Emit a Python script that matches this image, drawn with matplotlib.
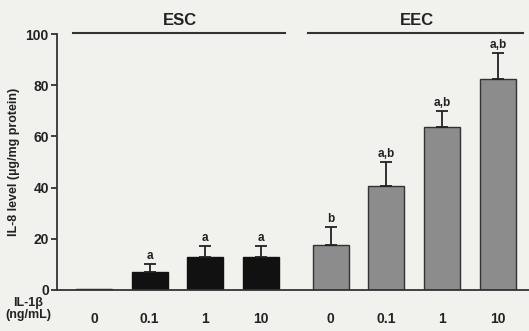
import matplotlib.pyplot as plt

# values
doses = ['0', '0.1', '1', '10']
esc_mean = [0.3, 7.2, 12.8, 12.7]
esc_err = [0, 2.8, 4.5, 4.5]
esc_sig = ['', 'a', 'a', 'a']
eec_mean = [17.5, 40.5, 63.5, 82.5]
eec_err = [7.0, 9.5, 6.5, 10.0]
eec_sig = ['b', 'a,b', 'a,b', 'a,b']

bg = '#f1f1ed'
plt.rcParams['font.family'] = 'Liberation Sans'
plt.rcParams['font.weight'] = 'bold'
plt.rcParams['axes.labelweight'] = 'bold'

fig = plt.figure(figsize=(5.29, 3.31), dpi=100, facecolor=bg)
ax = fig.add_axes([0.108, 0.124, 0.892, 0.773], facecolor=bg)

x_esc = [0, 1, 2, 3]
x_eec = [4.25, 5.25, 6.25, 7.25]
w = 0.65

ax.bar(x_esc, esc_mean, width=w, color='#111111', edgecolor='#111111', zorder=2)
ax.bar(x_eec, eec_mean, width=w, color='#8c8c8c', edgecolor='#333333', linewidth=1.0, zorder=2)

for xs, m, e in [(x_esc[1:], esc_mean[1:], esc_err[1:]), (x_eec, eec_mean, eec_err)]:
    ax.errorbar(xs, m, yerr=[[0] * len(e), e], fmt='none', ecolor='#222222',
                elinewidth=1.3, capsize=4, capthick=1.3, zorder=3, clip_on=False)

for xs, m, e, s in [(x_esc, esc_mean, esc_err, esc_sig), (x_eec, eec_mean, eec_err, eec_sig)]:
    for xi, mi, ei, si in zip(xs, m, e, s):
        ax.text(xi, mi + ei + 0.8, si, ha='center', va='bottom', fontsize=8.5, color='#222222')

# group bars on top
ax.plot([-0.38, 3.43], [100.4, 100.4], color='#333333', lw=1.5, clip_on=False)
ax.plot([3.84, 7.70], [100.4, 100.4], color='#333333', lw=1.5, clip_on=False)
ax.text(1.55, 102.5, 'ESC', ha='center', va='bottom', fontsize=12, color='#222222')
ax.text(5.8, 102.5, 'EEC', ha='center', va='bottom', fontsize=12, color='#222222')

ax.set_xlim(-0.66, 7.81)
ax.set_ylim(0, 100)
ax.set_yticks([0, 20, 40, 60, 80, 100])
ax.tick_params(axis='y', labelsize=10, length=4, width=1.2, colors='#222222', pad=2)
ax.set_xticks(x_esc + x_eec)
ax.set_xticklabels(doses + doses)
ax.tick_params(axis='x', labelsize=10, length=0, pad=16, colors='#222222')

for side in ['top', 'right']:
    ax.spines[side].set_visible(False)
for side in ['left', 'bottom']:
    ax.spines[side].set_linewidth(1.3)
    ax.spines[side].set_color('#333333')

ax.set_ylabel('IL-8 level (µg/mg protein)', fontsize=9, color='#222222', labelpad=4)
fig.text(0.053, 0.065, 'IL-1β\n(ng/mL)', ha='center', va='center', fontsize=9,
         color='#222222', linespacing=1.0)

fig.savefig('out.png', dpi=100, facecolor=bg)
